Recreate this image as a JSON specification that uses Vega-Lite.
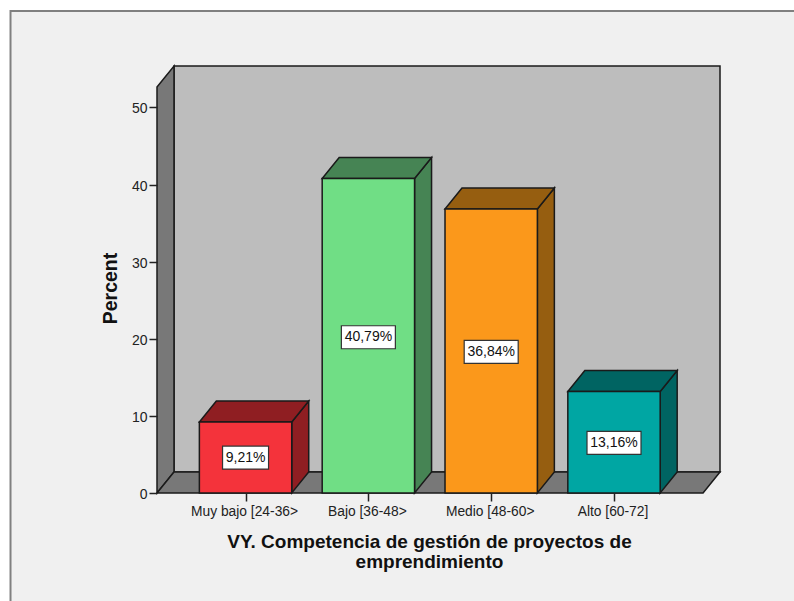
{
"$schema":"https://vega.github.io/schema/vega-lite/v6.json",
"width":563,"height":427,
"autosize":"none",
"padding":{"left":157,"top":66,"right":74,"bottom":108},
"background":"#ffffff",
"config":{"view":{"stroke":null},"font":"Liberation Sans"},
"datasets":{
"bars":[
{"label":"Muy bajo [24-36>","text":"9,21%","percent":9.21,"middle":4.6,"center":1,"from":0.624,"to":1.376},
{"label":"Bajo [36-48>","text":"40,79%","percent":40.79,"middle":20.2,"center":2,"from":1.624,"to":2.376},
{"label":"Medio [48-60>","text":"36,84%","percent":36.84,"middle":18.3,"center":3,"from":2.624,"to":3.376},
{"label":"Alto [60-72]","text":"13,16%","percent":13.16,"middle":6.5,"center":4,"from":3.624,"to":4.376}],
"sides":[
{"bar":"Muy bajo","x":1.376,"top":9.21,"base":0},{"bar":"Muy bajo","x":1.5144,"top":11.93,"base":2.72},
{"bar":"Bajo","x":2.376,"top":40.79,"base":0},{"bar":"Bajo","x":2.5144,"top":43.51,"base":2.72},
{"bar":"Medio","x":3.376,"top":36.84,"base":0},{"bar":"Medio","x":3.5144,"top":39.56,"base":2.72},
{"bar":"Alto","x":4.376,"top":13.16,"base":0},{"bar":"Alto","x":4.5144,"top":15.88,"base":2.72}],
"tops":[
{"bar":"Muy bajo","y":9.21,"from":0.624,"to":1.376},{"bar":"Muy bajo","y":11.93,"from":0.7624,"to":1.5144},
{"bar":"Bajo","y":40.79,"from":1.624,"to":2.376},{"bar":"Bajo","y":43.51,"from":1.7624,"to":2.5144},
{"bar":"Medio","y":36.84,"from":2.624,"to":3.376},{"bar":"Medio","y":39.56,"from":2.7624,"to":3.5144},
{"bar":"Alto","y":13.16,"from":3.624,"to":4.376},{"bar":"Alto","y":15.88,"from":3.7624,"to":4.5144}]
},
"layer":[
{"data":{"values":[{"x":-0.9137,"x2":5.6,"y":62.52,"y2":-15}]},
 "mark":{"type":"rect","fill":"#f0f0f0","stroke":"#808080","strokeWidth":2},
 "encoding":{"x":{"field":"x","type":"quantitative","scale":{"domain":[0.279,4.863],"nice":false,"zero":false},
   "axis":{"values":[1,2,3,4],"zindex":1,"domain":false,"grid":false,"tickSize":8,"tickColor":"#222222","tickWidth":1.5,"labelFontSize":13.8,"labelColor":"#222222","labelPadding":3,"labelOffset":-1.5,"labelFlush":false,"labelOverlap":false,
   "labelExpr":"['Muy bajo [24-36>','Bajo [36-48>','Medio [48-60>','Alto [60-72]'][datum.value-1]",
   "title":["VY. Competencia de gestión de proyectos de","emprendimiento"],"titleFontSize":19,"titleFontWeight":"bold","titleColor":"#111111","titleX":272,"titleY":54,"titleLineHeight":20,"titleAlign":"center","titleBaseline":"alphabetic"}},
  "x2":{"field":"x2"},
  "y":{"field":"y","type":"quantitative","scale":{"domain":[0,55.38],"nice":false,"zero":false},
   "axis":{"values":[0,10,20,30,40,50],"zindex":1,"domain":false,"grid":false,"tickSize":8,"tickColor":"#222222","tickWidth":1.5,"labelFontSize":14,"labelColor":"#222222","labelPadding":2,"labelOffset":1.5,
   "title":"Percent","titleFontSize":19.5,"titleFontWeight":"bold","titleColor":"#111111","titleX":-41,"titleY":222,"titleAlign":"center","titleBaseline":"alphabetic"}},
  "y2":{"field":"y2"}}},
{"data":{"values":[{"x":0.4174,"x2":4.863,"y":2.72,"y2":55.38}]},
 "mark":{"type":"rect","fill":"#bdbdbd","stroke":"#1a1a1a","strokeWidth":1.5},
 "encoding":{"x":{"field":"x","type":"quantitative"},"x2":{"field":"x2"},"y":{"field":"y","type":"quantitative"},"y2":{"field":"y2"}}},
{"data":{"values":[{"x":0.279,"top":52.66,"base":0},{"x":0.4174,"top":55.38,"base":2.72}]},
 "mark":{"type":"area","fill":"#787878","stroke":"#1a1a1a","strokeWidth":1.5},
 "encoding":{"x":{"field":"x","type":"quantitative"},"y":{"field":"top","type":"quantitative"},"y2":{"field":"base"}}},
{"data":{"values":[{"y":0,"from":0.279,"to":4.725},{"y":2.72,"from":0.4174,"to":4.863}]},
 "mark":{"type":"area","orient":"horizontal","fill":"#787878","stroke":"#1a1a1a","strokeWidth":1.5},
 "encoding":{"y":{"field":"y","type":"quantitative"},"x":{"field":"from","type":"quantitative"},"x2":{"field":"to"}}},
{"data":{"name":"sides"},
 "mark":{"type":"area","stroke":"#1a1a1a","strokeWidth":1.5,"opacity":1},
 "encoding":{"x":{"field":"x","type":"quantitative"},"y":{"field":"top","type":"quantitative"},"y2":{"field":"base"},
  "color":{"field":"bar","type":"nominal","legend":null,"scale":{"domain":["Muy bajo","Bajo","Medio","Alto"],"range":["#8f1e22","#468454","#965e10","#006462"]}}}},
{"data":{"name":"tops"},
 "mark":{"type":"area","orient":"horizontal","stroke":"#1a1a1a","strokeWidth":1.5,"opacity":1},
 "encoding":{"y":{"field":"y","type":"quantitative"},"x":{"field":"from","type":"quantitative"},"x2":{"field":"to"},
  "color":{"field":"bar","type":"nominal","legend":null,"scale":{"domain":["Muy bajo","Bajo","Medio","Alto"],"range":["#8f1e22","#468454","#965e10","#006462"]}}}},
{"data":{"name":"bars"},
 "mark":{"type":"rect","stroke":"#1a1a1a","strokeWidth":1.5},
 "encoding":{"x":{"field":"from","type":"quantitative"},"x2":{"field":"to"},"y":{"field":"percent","type":"quantitative"},"y2":{"datum":0},
  "fill":{"field":"label","type":"nominal","legend":null,"scale":{"domain":["Muy bajo [24-36>","Bajo [36-48>","Medio [48-60>","Alto [60-72]"],"range":["#f4333b","#70de85","#fb981b","#00a6a3"]}}}},
{"data":{"name":"bars"},
 "transform":[{"filter":"datum.percent<10"}],
 "mark":{"type":"rect","width":46,"height":23,"fill":"#ffffff","stroke":"#333333","strokeWidth":1.2},
 "encoding":{"x":{"field":"center","type":"quantitative"},"y":{"field":"middle","type":"quantitative"}}},
{"data":{"name":"bars"},
 "transform":[{"filter":"datum.percent>=10"}],
 "mark":{"type":"rect","width":54,"height":23,"fill":"#ffffff","stroke":"#333333","strokeWidth":1.2},
 "encoding":{"x":{"field":"center","type":"quantitative"},"y":{"field":"middle","type":"quantitative"}}},
{"data":{"name":"bars"},
 "mark":{"type":"text","font":"Liberation Sans","fontSize":14,"fill":"#111111","align":"center","baseline":"middle"},
 "encoding":{"x":{"field":"center","type":"quantitative"},"y":{"field":"middle","type":"quantitative"},"text":{"field":"text"}}}
],
"resolve":{"scale":{"fill":"independent"}}
}
